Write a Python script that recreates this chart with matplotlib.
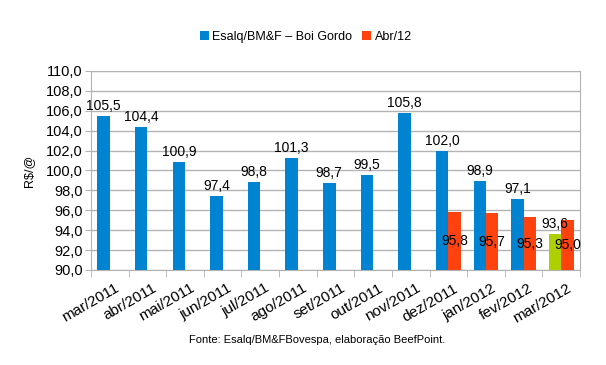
import numpy as np
import matplotlib.pyplot as plt
import matplotlib.transforms as mtransforms

plt.rcParams['font.family'] = ['Liberation Sans', 'DejaVu Sans']

# Dados
meses = ['mar/2011', 'abr/2011', 'mai/2011', 'jun/2011', 'jul/2011', 'ago/2011',
         'set/2011', 'out/2011', 'nov/2011', 'dez/2011', 'jan/2012', 'fev/2012', 'mar/2012']
boi_gordo = [105.5, 104.4, 100.9, 97.4, 98.8, 101.3, 98.7, 99.5, 105.8, 102.0, 98.9, 97.1, 93.6]
abr12 = [np.nan] * 9 + [95.8, 95.7, 95.3, 95.0]

azul = '#0084d1'
vermelho = '#ff420e'
verde = '#aecf00'
base = 90.0

fig = plt.figure(figsize=(6.06, 3.65), dpi=100)
ax = fig.add_axes([91 / 606, 1 - 270 / 365, (580 - 91) / 606, (270 - 71) / 365])

x = np.arange(len(meses))
w = 0.33
cores = [azul] * (len(meses) - 1) + [verde]

barras1 = ax.bar(x - w / 2, np.array(boi_gordo) - base, w, bottom=base, color=cores, zorder=3)
mask = ~np.isnan(abr12)
barras2 = ax.bar(x[mask] + w / 2, np.array(abr12)[mask] - base, w, bottom=base,
                 color=vermelho, zorder=3)

# Rótulos dos valores
fmt = lambda v: f'{v:.1f}'.replace('.', ',')
for xi, v in zip(x, boi_gordo):
    ax.text(xi - w / 2, v + 0.3, fmt(v), ha='center', va='bottom', fontsize=10, zorder=4)
for xi, v in zip(x[mask], np.array(abr12)[mask]):
    ax.text(xi + w / 2, (base + v) / 2, fmt(v), ha='center', va='center', fontsize=10, zorder=4)

ax.set_xlim(-0.5, len(meses) - 0.5)
ax.set_ylim(90, 110)
ax.set_yticks(np.arange(90, 111, 2))
ax.set_yticklabels([fmt(v) for v in np.arange(90, 111, 2)], fontsize=10.5)
ax.yaxis.grid(True, color='#b3b3b3', linewidth=1, zorder=0)

ax.set_xticks(x)
ax.set_xticklabels(meses, rotation=30, ha='right', va='top', rotation_mode='anchor', fontsize=11)
ax.tick_params(axis='x', length=0, pad=8)
desloc = mtransforms.ScaledTranslation(5 / 100, 0, fig.dpi_scale_trans)
for rot in ax.get_xticklabels():
    rot.set_transform(rot.get_transform() + desloc)
ax.set_xticks(np.arange(-0.5, len(meses)), minor=True)
ax.tick_params(axis='x', which='minor', length=5, color='#b3b3b3')
ax.tick_params(axis='y', length=4, color='#b3b3b3', pad=2)

for lado in ax.spines.values():
    lado.set_color('#b3b3b3')

ax.set_ylabel('R$/@', fontsize=9, labelpad=8)

# Legenda
fig.legend([barras1[0], barras2[0]], ['Esalq/BM&F – Boi Gordo', 'Abr/12'],
           loc='center', bbox_to_anchor=(306 / 606, 1 - 37 / 365), ncol=2, frameon=False,
           fontsize=9, handlelength=0.7, handleheight=0.7, handletextpad=0.3,
           columnspacing=0.8)

fig.text(317 / 606, 1 - 340 / 365, 'Fonte: Esalq/BM&FBovespa, elaboração BeefPoint.',
         ha='center', va='center', fontsize=8)

plt.savefig('out.png', dpi=100)
